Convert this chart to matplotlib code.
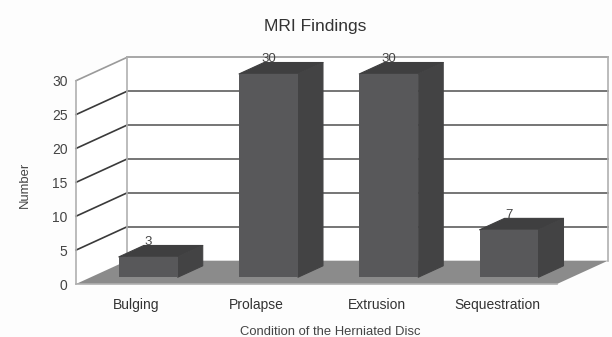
import numpy as np
import matplotlib
matplotlib.use("Agg")
import matplotlib.pyplot as plt
from matplotlib.patches import Polygon

categories = ["Bulging", "Prolapse", "Extrusion", "Sequestration"]
values = [3, 30, 30, 7]
y_ticks = [0, 5, 10, 15, 20, 25, 30]
title = "MRI Findings"
x_label = "Condition of the Herniated Disc"
y_label = "Number"

W, H = 612, 337
plt.rcParams["font.family"] = ["Liberation Sans", "DejaVu Sans"]
fig = plt.figure(figsize=(W / 100, H / 100), dpi=100, facecolor="#fdfdfd")
ax = fig.add_axes([76 / W, (H - 284) / H, (557 - 76) / W, (284 - 80.7) / H])
ax.set_xlim(0, len(categories))
ax.set_ylim(0, 30)
ax.patch.set_alpha(0)
for s in ax.spines.values():
    s.set_visible(False)

# oblique depth vector, in data units
DX, DY = 0.424, 3.44


def proj(x, y, d):
    return (x + d * DX, y + d * DY)


def poly(points, color, z, ec="none", lw=0):
    ax.add_patch(Polygon(points, closed=True, facecolor=color, edgecolor=ec,
                         linewidth=lw, zorder=z, clip_on=False, joinstyle="round"))


xmax = len(categories)
ymax = y_ticks[-1]
# back wall fill
poly([proj(0, 0, 1), proj(xmax, 0, 1), proj(xmax, ymax, 1), proj(0, ymax, 1)], "#ffffff", 1)
poly([proj(0, 0, 0), proj(0, 0, 1), proj(0, ymax, 1), proj(0, ymax, 0)], "#ffffff", 1)
# floor
poly([proj(0, 0, 0), proj(xmax, 0, 0), proj(xmax, 0, 1), proj(0, 0, 1)], "#8b8b8b", 2)

# gridlines
for t in y_ticks[1:]:
    top = t == ymax
    xs, ys = zip(proj(0, t, 0), proj(0, t, 1))
    ax.plot(xs, ys, color="#9a9a9a" if top else "#3a3a3a", lw=1.2, zorder=3, clip_on=False)
    xs, ys = zip(proj(0, t, 1), proj(xmax, t, 1))
    ax.plot(xs, ys, color="#a0a0a0" if top else "#6a6a6a", lw=1.3, zorder=3, clip_on=False)

# wall edges
for (a, b) in [(proj(0, 0, 0), proj(0, ymax, 0)),
               (proj(0, 0, 1), proj(0, ymax, 1)),
               (proj(xmax, 0, 1), proj(xmax, ymax, 1)),
               (proj(0, 0, 0), proj(xmax, 0, 0))]:
    ax.plot([a[0], b[0]], [a[1], b[1]], color="#b0b0b0", lw=1.2, zorder=3, clip_on=False)

# bars
bw = 0.49
d0, d1 = 0.29, 0.78
shift = -0.022
for i, v in enumerate(values):
    xl = i + 0.5 + shift - bw / 2
    xr = i + 0.5 + shift + bw / 2
    z = 4 + i
    poly([proj(xl, v, d0), proj(xr, v, d0), proj(xr, v, d1), proj(xl, v, d1)], "#3f3f40", z, "#3f3f40", 0.8)
    poly([proj(xr, 0, d0), proj(xr, 0, d1), proj(xr, v, d1), proj(xr, v, d0)], "#434344", z, "#434344", 0.8)
    poly([proj(xl, 0, d0), proj(xr, 0, d0), proj(xr, v, d0), proj(xl, v, d0)], "#58585a", z + 0.5)
    lx, ly = proj(i + 0.5 + shift, v, d0)
    ax.annotate(str(v), (lx, ly), xytext=(0, 10.8), textcoords="offset points",
                ha="center", va="center", fontsize=9.5, color="#444444", zorder=20,
                annotation_clip=False)

ax.set_xticks(np.arange(len(categories)) + 0.5)
ax.set_xticklabels(categories)
ax.set_yticks(y_ticks)
ax.tick_params(axis="x", length=0, pad=10, labelsize=10, labelcolor="#333333")
ax.tick_params(axis="y", length=0, pad=6, labelsize=10, labelcolor="#444444")

ax.set_xlabel(x_label, fontsize=9.4, color="#444444")
ax.xaxis.set_label_coords((330 - 76) / (557 - 76), (284 - 332) / (284 - 80.7), transform=ax.transAxes)
ax.xaxis.label.set_verticalalignment("center")
ax.set_ylabel(y_label, fontsize=9.4, color="#444444")
ax.yaxis.set_label_coords((25 - 76) / (557 - 76), (284 - 185) / (284 - 80.7), transform=ax.transAxes)
ax.yaxis.label.set_verticalalignment("center")

fig.text(315 / W, (H - 27) / H, title, ha="center", va="center", fontsize=12.5, color="#333333")

fig.savefig("out.png", dpi=100, facecolor=fig.get_facecolor())
